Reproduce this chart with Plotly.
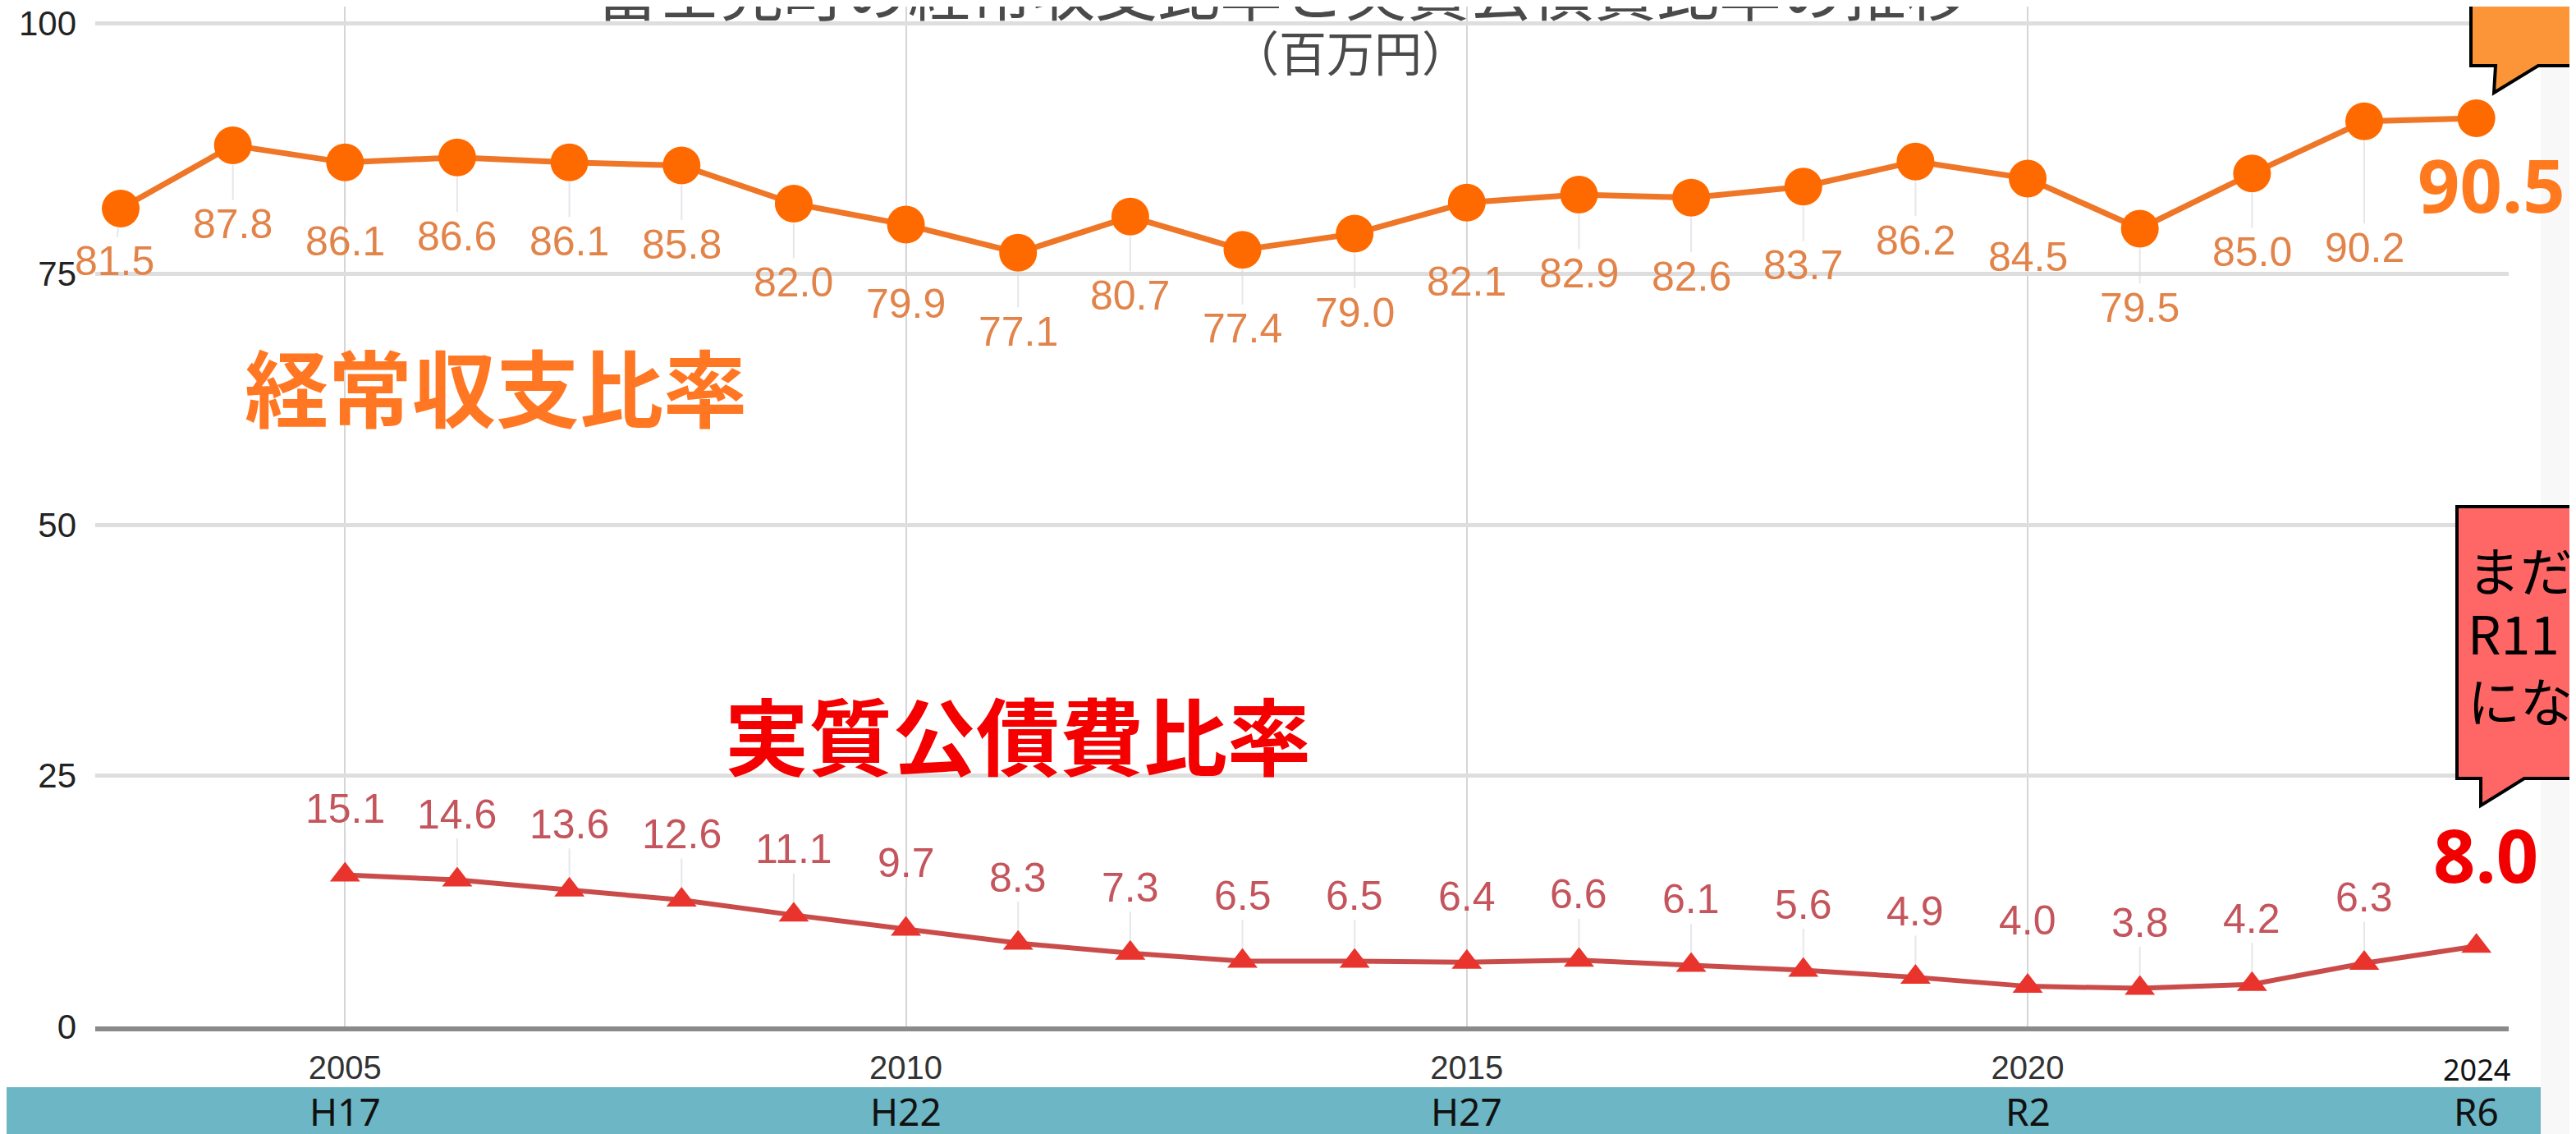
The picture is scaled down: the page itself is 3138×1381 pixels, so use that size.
import plotly.graph_objects as go

# ---------------- data ----------------
years_a = [2003, 2004, 2005, 2006, 2007, 2008, 2009, 2010, 2011, 2012, 2013,
           2014, 2015, 2016, 2017, 2018, 2019, 2020, 2021, 2022, 2023, 2024]
keijo = [81.5, 87.8, 86.1, 86.6, 86.1, 85.8, 82.0, 79.9, 77.1, 80.7, 77.4,
         79.0, 82.1, 82.9, 82.6, 83.7, 86.2, 84.5, 79.5, 85.0, 90.2, 90.5]
years_b = [2005, 2006, 2007, 2008, 2009, 2010, 2011, 2012, 2013, 2014,
           2015, 2016, 2017, 2018, 2019, 2020, 2021, 2022, 2023, 2024]
kosaihi = [15.1, 14.6, 13.6, 12.6, 11.1, 9.7, 8.3, 7.3, 6.5, 6.5,
           6.4, 6.6, 6.1, 5.6, 4.9, 4.0, 3.8, 4.2, 6.3, 8.0]
xtick_vals = [2005, 2010, 2015, 2020]
ytick_vals = [0, 25, 50, 75, 100]
era_years = [2005, 2010, 2015, 2020, 2024]
era_labels = ["H17", "H22", "H27", "R2", "R6"]
last_year_label = "2024"
title_text = "富士見町の経常収支比率と実質公債費比率の推移"
unit_text = "（百万円）"
name_a = "経常収支比率"
name_b = "実質公債費比率"
note_lines = ["まだ", "R11", "にな"]

# ---------------- layout geometry ----------------
# The page body has an 8px default margin: the figure is laid out so that
# screen coordinates (reference pixels) map to figure coordinates minus 8.
OFF = 8
SW, SH = 3138, 1381
W, H = SW - OFF, SH - OFF
PL, PR, PB = 116, 3056, 1250          # plot area edges in screen pixels
ML = PL - OFF
MR = W - (PR - OFF)
MT = 0
MB = H - (PB - OFF)
PW, PH = W - ML - MR, H - MT - MB
XR = [2002.773, 2024.288]
YR = [0, (PB - OFF) / 12.22]          # 12.22 px per unit

def px(xp, yp):
    return (xp - OFF - ML) / PW, (H - MB - (yp - OFF)) / PH

def path(points):
    s = ""
    for i, (a, b) in enumerate(points):
        x, y = px(a, b)
        s += ("M" if i == 0 else "L") + f"{x:.5f},{y:.5f} "
    return s + "Z"

ARIAL = "Arial, Liberation Sans, sans-serif"
CJK = "Noto Sans CJK JP, Noto Sans, sans-serif"
NOTO = "Noto Sans, sans-serif"

fig = go.Figure()
fig.add_trace(go.Scatter(
    x=years_a, y=keijo, mode="lines+markers",
    line=dict(color="#ee7626", width=7),
    marker=dict(symbol="circle", size=46, color="#ff6a00"),
    hoverinfo="skip", cliponaxis=False))
fig.add_trace(go.Scatter(
    x=years_b, y=kosaihi, mode="lines+markers",
    line=dict(color="#c94c4a", width=6),
    marker=dict(symbol="triangle-up", size=32, color="#e8342c"),
    hoverinfo="skip", cliponaxis=False))

annotations = []
# orange data labels (below points), skip last (shown large)
special_a = {2003: 64, 2023: 154}
for x, v in zip(years_a[:-1], keijo[:-1]):
    annotations.append(dict(
        x=x, y=v, xref="x", yref="y", text=f"{v:.1f}", showarrow=True,
        arrowhead=0, arrowwidth=2, arrowcolor="rgba(215,215,225,0.6)",
        ax=-8 if x == 2003 else 0, ay=special_a.get(x, 96), standoff=24,
        font=dict(family=ARIAL, size=50, color="#e2844a")))
# red data labels (above points)
for x, v in zip(years_b[:-1], kosaihi[:-1]):
    annotations.append(dict(
        x=x, y=v, xref="x", yref="y", text=f"{v:.1f}", showarrow=True,
        arrowhead=0, arrowwidth=2, arrowcolor="rgba(215,215,225,0.6)",
        ax=0, ay=-80, standoff=16,
        font=dict(family=ARIAL, size=50, color="#c4555c")))

def pa(xp, yp, text, size, color, family=CJK, xanchor="center", weight="normal"):
    x, y = px(xp, yp)
    annotations.append(dict(
        x=x, y=y, xref="paper", yref="paper", text=text, showarrow=False,
        xanchor=xanchor, yanchor="middle",
        font=dict(family=family, size=size, color=color, weight=weight)))

# title (partly cut at top) and unit
pa(1562, -14, title_text, 76, "#4a4a4a")
pa(1645, 62, unit_text, 58, "#4a4a4a")
# series names
pa(604, 468, name_a, 102, "#ff7722", weight="bold")
pa(1240, 892, name_b, 102, "#f40000", weight="bold")
# big last-value labels
pa(3035, 224, f"{keijo[-1]:.1f}", 90, "#ff7a1f", family=NOTO, weight="bold")
pa(3028, 1040, f"{kosaihi[-1]:.1f}", 90, "#f20000", family=NOTO, weight="bold")
# callout note text
for t, yc in zip(note_lines, [692, 769, 851]):
    pa(3004, yc, t, 64, "#000000", xanchor="left")

# era labels in the band
for yr, lab in zip(era_years, era_labels):
    annotations.append(dict(
        x=yr, y=px(0, 1353)[1], xref="x", yref="paper", text=lab, showarrow=False,
        xanchor="center", yanchor="middle",
        font=dict(family=NOTO, size=46, color="#111111")))
annotations.append(dict(
    x=era_years[-1], y=px(0, 1302)[1], xref="x", yref="paper", text=last_year_label,
    showarrow=False, xanchor="center", yanchor="middle",
    font=dict(family=NOTO, size=36, color="#111111")))

shapes = [
    # right pale strip
    dict(type="rect", xref="paper", yref="paper",
         x0=px(3095, 0)[0], x1=px(3160, 0)[0], y0=px(0, -20)[1], y1=px(0, 1400)[1],
         fillcolor="#f8f8f8", line=dict(width=0), layer="below"),
    # teal band
    dict(type="rect", xref="paper", yref="paper",
         x0=px(-10, 0)[0], x1=px(3095, 0)[0], y0=px(0, 1324)[1], y1=px(0, 1400)[1],
         fillcolor="#6cb6c5", line=dict(width=0), layer="below"),
    # orange callout
    dict(type="path", xref="paper", yref="paper",
         path=path([(3010, -20), (3010, 80), (3040, 80), (3038, 113), (3092, 80),
                    (3170, 80), (3170, -20)]),
         fillcolor="#fb9537", line=dict(color="#000000", width=4), layer="above"),
    # red callout
    dict(type="path", xref="paper", yref="paper",
         path=path([(2993, 617), (2993, 948), (3022, 948), (3022, 981), (3075, 948),
                    (3170, 948), (3170, 617)]),
         fillcolor="#ff6666", line=dict(color="#000000", width=4), layer="above"),
]

fig.update_layout(
    width=W, height=H, autosize=False,
    margin=dict(l=ML, r=MR, t=MT, b=MB, pad=0),
    paper_bgcolor="#ffffff", plot_bgcolor="#ffffff",
    showlegend=False,
    annotations=annotations, shapes=shapes,
    xaxis=dict(range=XR, tickvals=xtick_vals, ticktext=[str(v) for v in xtick_vals],
               automargin=False, ticklabeloverflow="allow",
               showgrid=True, gridcolor="#d6d6d6", gridwidth=2,
               zeroline=False, showline=True, linecolor="#8a8a8a", linewidth=6,
               ticks="", ticklabelstandoff=10,
               tickfont=dict(family=ARIAL, size=40, color="#333333")),
    yaxis=dict(range=YR, tickvals=ytick_vals, ticktext=[str(v) for v in ytick_vals],
               automargin=False, ticklabeloverflow="allow",
               showgrid=True, gridcolor="#dedede", gridwidth=5,
               zeroline=False, showline=False, ticks="", ticklabelstandoff=22,
               tickfont=dict(family=ARIAL, size=42, color="#222222")),
)

fig.write_html("out.html")
